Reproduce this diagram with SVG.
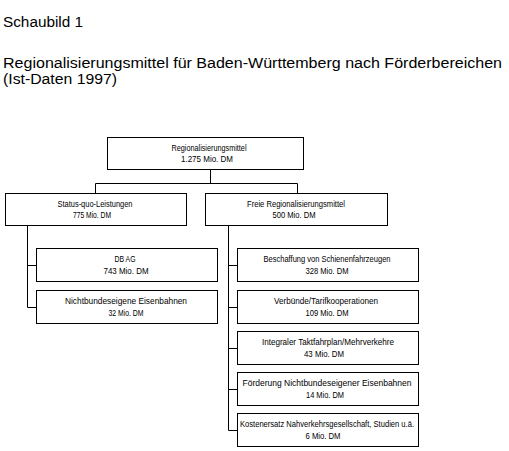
<svg xmlns="http://www.w3.org/2000/svg" width="509" height="451" viewBox="0 0 509 451">
<style>
.t{font-family:"Liberation Sans",Arial,sans-serif;fill:#000}
.h{font-size:14px}
.b{font-size:9px;text-anchor:middle}
rect{fill:#fff;stroke:#000;stroke-width:1}
.c{fill:none;stroke:#000;stroke-width:1}
</style>
<rect x="0" y="0" width="509" height="451" style="stroke:none"/>
<text class="t h" x="3" y="27" textLength="80" lengthAdjust="spacingAndGlyphs">Schaubild 1</text>
<text class="t h" x="3" y="68" textLength="499" lengthAdjust="spacingAndGlyphs">Regionalisierungsmittel für Baden-Württemberg nach Förderbereichen</text>
<text class="t h" x="3" y="84" textLength="114" lengthAdjust="spacingAndGlyphs">(Ist-Daten 1997)</text>
<g id="connectors">
<path class="c" d="M210.5 170V183.5M95.5 183.5H297.5M95.5 183.5V193M297.5 183.5V193"/>
<path class="c" d="M27.5 226V307.5M27.5 265.5H36M27.5 307.5H36"/>
<path class="c" d="M228.5 226V430.5M228.5 265.5H237M228.5 307.5H237M228.5 348.5H237M228.5 389.5H237M228.5 430.5H237"/>
</g>
<g id="n-top">
<rect x="107.5" y="137.5" width="196" height="32"/>
<text class="t b" x="209" y="151" textLength="75" lengthAdjust="spacingAndGlyphs">Regionalisierungsmittel</text>
<text class="t b" x="207" y="162" textLength="52" lengthAdjust="spacingAndGlyphs">1.275 Mio. DM</text>
</g>
<g id="n-status">
<rect x="5.5" y="193.5" width="181" height="32"/>
<text class="t b" x="95" y="207" textLength="75" lengthAdjust="spacingAndGlyphs">Status-quo-Leistungen</text>
<text class="t b" x="92" y="218" textLength="38" lengthAdjust="spacingAndGlyphs">775 Mio. DM</text>
</g>
<g id="n-freie">
<rect x="205.5" y="193.5" width="182" height="32"/>
<text class="t b" x="296" y="207" textLength="98" lengthAdjust="spacingAndGlyphs">Freie Regionalisierungsmittel</text>
<text class="t b" x="294" y="218" textLength="43" lengthAdjust="spacingAndGlyphs">500 Mio. DM</text>
</g>
<g id="n-dbag">
<rect x="36.5" y="248.5" width="181" height="33"/>
<text class="t b" x="125" y="262" textLength="21" lengthAdjust="spacingAndGlyphs">DB AG</text>
<text class="t b" x="126" y="274" textLength="45" lengthAdjust="spacingAndGlyphs">743 Mio. DM</text>
</g>
<g id="n-ne">
<rect x="36.5" y="290.5" width="181" height="33"/>
<text class="t b" x="126" y="304" textLength="122" lengthAdjust="spacingAndGlyphs">Nichtbundeseigene Eisenbahnen</text>
<text class="t b" x="126" y="316" textLength="35" lengthAdjust="spacingAndGlyphs">32 Mio. DM</text>
</g>
<g id="n-besch">
<rect x="237.5" y="248.5" width="181" height="33"/>
<text class="t b" x="327" y="262" textLength="127" lengthAdjust="spacingAndGlyphs">Beschaffung von Schienenfahrzeugen</text>
<text class="t b" x="327" y="274" textLength="43" lengthAdjust="spacingAndGlyphs">328 Mio. DM</text>
</g>
<g id="n-verb">
<rect x="237.5" y="290.5" width="181" height="33"/>
<text class="t b" x="326" y="304" textLength="104" lengthAdjust="spacingAndGlyphs">Verbünde/Tarifkooperationen</text>
<text class="t b" x="327" y="316" textLength="43" lengthAdjust="spacingAndGlyphs">109 Mio. DM</text>
</g>
<g id="n-itf">
<rect x="237.5" y="331.5" width="181" height="33"/>
<text class="t b" x="328" y="345" textLength="132" lengthAdjust="spacingAndGlyphs">Integraler Taktfahrplan/Mehrverkehre</text>
<text class="t b" x="324" y="357" textLength="40" lengthAdjust="spacingAndGlyphs">43 Mio. DM</text>
</g>
<g id="n-foerd">
<rect x="237.5" y="372.5" width="181" height="33"/>
<text class="t b" x="327" y="386" textLength="169" lengthAdjust="spacingAndGlyphs">Förderung Nichtbundeseigener Eisenbahnen</text>
<text class="t b" x="325" y="398" textLength="38" lengthAdjust="spacingAndGlyphs">14 Mio. DM</text>
</g>
<g id="n-kosten">
<rect x="237.5" y="413.5" width="181" height="33"/>
<text class="t b" x="327" y="427" textLength="174" lengthAdjust="spacingAndGlyphs">Kostenersatz Nahverkehrsgesellschaft, Studien u.ä.</text>
<text class="t b" x="323" y="439" textLength="35" lengthAdjust="spacingAndGlyphs">6 Mio. DM</text>
</g>
</svg>
